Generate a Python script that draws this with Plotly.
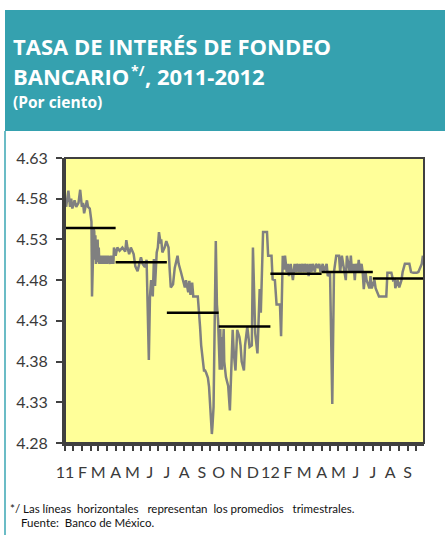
import plotly.graph_objects as go

# daily funding rate, percent
dates = [
    "2011-01-03", "2011-01-04", "2011-01-07", "2011-01-10", "2011-01-12", "2011-01-14",
    "2011-01-18", "2011-01-21", "2011-01-25", "2011-01-28", "2011-01-31", "2011-02-02",
    "2011-02-04", "2011-02-07", "2011-02-09", "2011-02-11", "2011-02-14", "2011-02-17",
    "2011-02-18", "2011-02-21", "2011-02-22", "2011-02-23", "2011-02-24", "2011-02-25",
    "2011-02-28", "2011-03-01", "2011-03-02", "2011-03-03", "2011-03-04", "2011-03-07",
    "2011-03-08", "2011-03-09", "2011-03-10", "2011-03-11", "2011-03-14", "2011-03-15",
    "2011-03-16", "2011-03-17", "2011-03-18", "2011-03-22", "2011-03-23", "2011-03-24",
    "2011-03-25", "2011-03-28", "2011-03-29", "2011-04-01", "2011-04-04", "2011-04-08",
    "2011-04-13", "2011-04-18", "2011-04-20", "2011-04-22", "2011-04-25", "2011-04-28",
    "2011-05-03", "2011-05-06", "2011-05-10", "2011-05-13", "2011-05-16", "2011-05-19",
    "2011-05-23", "2011-05-26", "2011-05-30", "2011-06-01", "2011-06-03", "2011-06-06",
    "2011-06-08", "2011-06-10", "2011-06-13", "2011-06-15", "2011-06-17", "2011-06-20",
    "2011-06-21", "2011-06-23", "2011-06-27", "2011-06-30", "2011-07-04", "2011-07-06",
    "2011-07-08", "2011-07-12", "2011-07-15", "2011-07-20", "2011-07-22", "2011-07-26",
    "2011-07-29", "2011-08-02", "2011-08-04", "2011-08-08", "2011-08-10", "2011-08-12",
    "2011-08-15", "2011-08-17", "2011-08-22", "2011-08-25", "2011-08-29", "2011-08-31",
    "2011-09-05", "2011-09-07", "2011-09-09", "2011-09-12", "2011-09-14", "2011-09-16",
    "2011-09-19", "2011-09-20", "2011-09-22", "2011-09-26", "2011-09-28", "2011-09-30",
    "2011-10-03", "2011-10-04", "2011-10-05", "2011-10-06", "2011-10-07", "2011-10-10",
    "2011-10-11", "2011-10-14", "2011-10-18", "2011-10-21", "2011-10-24", "2011-10-26",
    "2011-10-28", "2011-10-31", "2011-11-03", "2011-11-07", "2011-11-09", "2011-11-11",
    "2011-11-15", "2011-11-17", "2011-11-21", "2011-11-23", "2011-11-25", "2011-11-29",
    "2011-12-01", "2011-12-05", "2011-12-07", "2011-12-09", "2011-12-13", "2011-12-15",
    "2011-12-19", "2011-12-22", "2011-12-26", "2011-12-28", "2011-12-30",
    "2012-01-03", "2012-01-05", "2012-01-09", "2012-01-12", "2012-01-18", "2012-01-20",
    "2012-01-23", "2012-01-25", "2012-01-27", "2012-01-30", "2012-02-01", "2012-02-03",
    "2012-02-06", "2012-02-08", "2012-02-10", "2012-02-13", "2012-02-15", "2012-02-17",
    "2012-02-20", "2012-02-22", "2012-02-24", "2012-02-27", "2012-02-29", "2012-03-02",
    "2012-03-05", "2012-03-07", "2012-03-09", "2012-03-12", "2012-03-14", "2012-03-16",
    "2012-03-20", "2012-03-22", "2012-03-26", "2012-03-28", "2012-03-30", "2012-04-03",
    "2012-04-05", "2012-04-10", "2012-04-12", "2012-04-16", "2012-04-20", "2012-04-23",
    "2012-04-25", "2012-04-27", "2012-05-02", "2012-05-04", "2012-05-07", "2012-05-09",
    "2012-05-11", "2012-05-14", "2012-05-16", "2012-05-18", "2012-05-21", "2012-05-23",
    "2012-05-25", "2012-05-28", "2012-05-30", "2012-06-01", "2012-06-04", "2012-06-06",
    "2012-06-08", "2012-06-11", "2012-06-13", "2012-06-15", "2012-06-18", "2012-06-20",
    "2012-06-25", "2012-06-27", "2012-06-29", "2012-07-04", "2012-07-06", "2012-07-12",
    "2012-07-25", "2012-07-27", "2012-08-03", "2012-08-06", "2012-08-09", "2012-08-10",
    "2012-08-14", "2012-08-17", "2012-08-21", "2012-08-23", "2012-08-27", "2012-09-04",
    "2012-09-07", "2012-09-11", "2012-09-17", "2012-09-20", "2012-09-26", "2012-09-28",
]
rates = [
    4.570, 4.575, 4.590, 4.570, 4.580, 4.568,
    4.578, 4.570, 4.575, 4.591, 4.570, 4.575,
    4.562, 4.572, 4.578, 4.570, 4.568, 4.552,
    4.460, 4.543, 4.540, 4.505, 4.535, 4.500,
    4.530, 4.502, 4.520, 4.500, 4.510, 4.500,
    4.510, 4.500, 4.510, 4.500, 4.510, 4.500,
    4.510, 4.500, 4.510, 4.500, 4.510, 4.500,
    4.510, 4.500, 4.520, 4.510, 4.520, 4.516,
    4.520, 4.515, 4.529, 4.520, 4.512, 4.520,
    4.512, 4.497, 4.491, 4.500, 4.508, 4.500,
    4.496, 4.505, 4.382, 4.460, 4.480, 4.460,
    4.506, 4.473, 4.514, 4.520, 4.539, 4.525,
    4.530, 4.514, 4.520, 4.528, 4.520, 4.493,
    4.471, 4.475, 4.495, 4.510, 4.500, 4.490,
    4.481, 4.471, 4.480, 4.465, 4.479, 4.462,
    4.477, 4.460, 4.460, 4.460, 4.423, 4.400,
    4.369, 4.369, 4.366, 4.360, 4.349, 4.330,
    4.291, 4.300, 4.324, 4.528, 4.450, 4.431,
    4.370, 4.420, 4.370, 4.410, 4.370, 4.420,
    4.380, 4.361, 4.350, 4.320, 4.380, 4.419,
    4.390, 4.369, 4.419, 4.410, 4.400, 4.380,
    4.369, 4.400, 4.423, 4.410, 4.398, 4.400,
    4.520, 4.415, 4.400, 4.390, 4.469, 4.440,
    4.539, 4.539, 4.539, 4.510, 4.510,
    4.510, 4.481, 4.480, 4.450, 4.450, 4.411,
    4.510, 4.493, 4.510, 4.490, 4.500, 4.485,
    4.500, 4.490, 4.480, 4.500, 4.490, 4.500,
    4.490, 4.500, 4.490, 4.500, 4.490, 4.500,
    4.490, 4.500, 4.485, 4.500, 4.490, 4.500,
    4.490, 4.500, 4.495, 4.500, 4.490, 4.500,
    4.490, 4.500, 4.485, 4.490, 4.328, 4.490,
    4.500, 4.510, 4.510, 4.490, 4.510, 4.500,
    4.490, 4.480, 4.510, 4.500, 4.490, 4.510,
    4.490, 4.500, 4.480, 4.500, 4.490, 4.505,
    4.490, 4.500, 4.490, 4.469, 4.490, 4.480,
    4.470, 4.485, 4.470, 4.480, 4.470, 4.460,
    4.460, 4.489, 4.489, 4.480, 4.481, 4.470,
    4.480, 4.471, 4.480, 4.490, 4.500, 4.500,
    4.490, 4.489, 4.489, 4.490, 4.500, 4.510,
]

# quarterly averages (horizontal lines)
quarter_bounds = ["2011-01-01", "2011-04-01", "2011-07-01", "2011-10-01",
                  "2012-01-01", "2012-04-01", "2012-07-01", "2012-10-01"]
quarter_avgs = [4.544, 4.502, 4.440, 4.423, 4.488, 4.490, 4.482]

# axis ticks
y_ticks = [4.28, 4.33, 4.38, 4.43, 4.48, 4.53, 4.58, 4.63]
month_starts = ["2011-01-01", "2011-02-01", "2011-03-01", "2011-04-01", "2011-05-01",
                "2011-06-01", "2011-07-01", "2011-08-01", "2011-09-01", "2011-10-01",
                "2011-11-01", "2011-12-01", "2012-01-01", "2012-02-01", "2012-03-01",
                "2012-04-01", "2012-05-01", "2012-06-01", "2012-07-01", "2012-08-01",
                "2012-09-01"]
month_labels = ["11", "F", "M", "A", "M", "J", "J", "A", "S", "O", "N",
                "D", "12", "F", "M", "A", "M", "J", "J", "A", "S"]

TEAL = "#35A1AF"
FRAME = "#404040"

fig = go.Figure()

fig.add_trace(go.Scatter(
    x=dates, y=rates, mode="lines",
    line=dict(color="#808080", width=2.5),
    showlegend=False,
))

qx, qy = [], []
for i in range(len(quarter_avgs)):
    qx += [quarter_bounds[i], quarter_bounds[i + 1], None]
    qy += [quarter_avgs[i], quarter_avgs[i], None]
fig.add_trace(go.Scatter(
    x=qx, y=qy, mode="lines",
    line=dict(color="#000000", width=2.5),
    showlegend=False,
))

# half-month tick marks, labels only on month starts
tick_vals, tick_text = [], []
for m, lab in zip(month_starts, month_labels):
    tick_vals += [m, m[:8] + "16"]
    tick_text += [lab, ""]

fig.update_xaxes(
    type="date", range=["2011-01-01", "2012-09-30"],
    tickmode="array", tickvals=tick_vals, ticktext=tick_text,
    ticks="outside", ticklen=5, tickwidth=2, tickcolor=FRAME,
    showline=True, linewidth=3, linecolor=FRAME,
    showgrid=False, zeroline=False,
    tickfont=dict(family="Lato", size=16, color="#3a3a3a"),
    ticklabelstandoff=8,
)
fig.update_yaxes(
    range=[4.28, 4.63],
    tickmode="array", tickvals=y_ticks, tickformat=".2f",
    ticks="outside", ticklen=6, tickwidth=2, tickcolor=FRAME,
    showline=True, linewidth=3, linecolor=FRAME,
    showgrid=False, zeroline=False,
    tickfont=dict(family="Lato", size=16, color="#3a3a3a"),
    ticklabelstandoff=5,
)

W, H = 445, 535
L, R, T, B = 65, 21, 158, 92
pw, ph = W - L - R, H - T - B


def px(x):
    return (x - L) / pw


def py(y):
    return (H - B - y) / ph


shapes = [
    # teal header
    dict(type="rect", xref="paper", yref="paper", x0=px(5), x1=px(448),
         y0=py(131), y1=py(10), fillcolor=TEAL, line=dict(width=0), layer="below"),
    # teal left rule of the panel
    dict(type="line", xref="paper", yref="paper", x0=px(5), x1=px(5),
         y0=py(131), y1=py(540), line=dict(color="#6BBCC6", width=2)),
    # top / right frame
    dict(type="rect", xref="paper", yref="paper", x0=0, x1=1, y0=0, y1=1,
         line=dict(color=FRAME, width=2)),
]

title_font = dict(family="Open Sans", size=22, color="white")
annotations = [
    dict(text="<b>TASA DE INTERÉS DE FONDEO</b>", x=px(11), y=py(45.5), font=title_font),
    dict(text="<b>BANCARIO</b>", x=px(11), y=py(76), font=title_font),
    dict(text="<b>*/</b>", x=px(129), y=py(70.5),
         font=dict(family="Open Sans", size=14, color="white")),
    dict(text="<b>, 2011-2012</b>", x=px(143), y=py(76), font=title_font),
    dict(text="<b>(Por ciento)</b>", x=px(11), y=py(102),
         font=dict(family="Open Sans", size=15.5, color="white")),
    dict(text="*/ Las líneas\u00a0 horizontales\u00a0\u00a0 representan\u00a0 los promedios\u00a0\u00a0 trimestrales.",
         x=px(8), y=py(508), font=dict(family="Lato", size=11.5, color="#111111")),
    dict(text="Fuente:\u00a0 Banco de México.",
         x=px(19), y=py(522), font=dict(family="Lato", size=11.5, color="#111111")),
]
for a in annotations:
    a.update(xref="paper", yref="paper", xanchor="left", yanchor="middle",
             showarrow=False)

fig.update_layout(
    width=W, height=H,
    margin=dict(l=L, r=R, t=T, b=B),
    paper_bgcolor="white",
    plot_bgcolor="#FFFF99",
    shapes=shapes,
    annotations=annotations,
)

# drop the browser's default 8px body margin so the figure sits at (0, 0)
fig.write_html("out.html", config={"displayModeBar": False},
               post_script="document.body.style.margin = '0px';")
